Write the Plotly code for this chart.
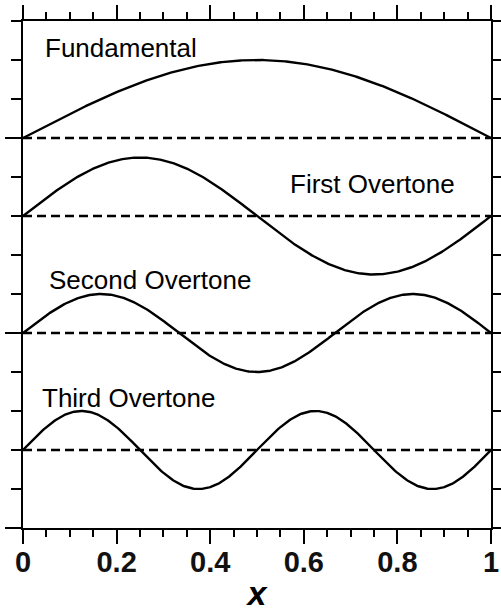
import numpy as np
import plotly.graph_objects as go

# Standing-wave modes
mode_names = ["Fundamental", "First Overtone", "Second Overtone", "Third Overtone"]
mode_numbers = [1, 2, 3, 4]
baselines = [10, 8, 5, 2]
amplitudes = [2, 1.5, 1, 1]
label_x = [0.21, 0.746, 0.272, 0.226]
label_y = [12.3, 8.81, 6.35, 3.34]

x_ticks = [0, 0.2, 0.4, 0.6, 0.8, 1]
x_tick_text = ["0", "0.2", "0.4", "0.6", "0.8", "1"]

x = np.linspace(0, 1, 401)

fig = go.Figure()
for name, n, b, a in zip(mode_names, mode_numbers, baselines, amplitudes):
    fig.add_trace(go.Scatter(x=[0, 1], y=[b, b], mode="lines",
                             line=dict(color="black", width=2.5, dash="9px,5px"),
                             showlegend=False, hoverinfo="skip"))
    fig.add_trace(go.Scatter(x=x, y=b + a * np.sin(n * np.pi * x), mode="lines",
                             line=dict(color="black", width=2.4),
                             name=name, showlegend=False))

for name, lx, ly in zip(mode_names, label_x, label_y):
    fig.add_annotation(x=lx, y=ly, xref="x", yref="y", text=name, showarrow=False,
                       font=dict(family="Liberation Sans", size=26, color="black"),
                       xanchor="center", yanchor="middle")

fig.update_layout(
    width=501, height=612,
    margin=dict(l=23, r=10, t=21, b=84),
    plot_bgcolor="white", paper_bgcolor="white",
    showlegend=False,
)
fig.update_xaxes(
    range=[0, 1], tickvals=x_ticks, ticktext=x_tick_text, automargin=False,
    showgrid=False, zeroline=False,
    showline=True, linecolor="black", linewidth=2, mirror="ticks",
    ticks="outside", ticklen=14, tickwidth=2, tickcolor="black",
    ticklabelstandoff=-7,
    tickfont=dict(family="Liberation Sans", size=29, color="#111", weight="bold"),
    minor=dict(dtick=0.05, ticks="outside", ticklen=7, tickwidth=2, tickcolor="black", showgrid=False),
    title=dict(text="<b><i>x</i></b>", font=dict(family="Liberation Sans", size=34, color="black"), standoff=6),
)
fig.update_yaxes(
    range=[0, 13], tick0=0, dtick=5, showticklabels=False, automargin=False,
    showgrid=False, zeroline=False,
    showline=True, linecolor="black", linewidth=2, mirror="ticks",
    ticks="outside", ticklen=16, tickwidth=2, tickcolor="black",
    minor=dict(dtick=1, ticks="outside", ticklen=10, tickwidth=2, tickcolor="black", showgrid=False),
)

fig.write_html("out.html")
